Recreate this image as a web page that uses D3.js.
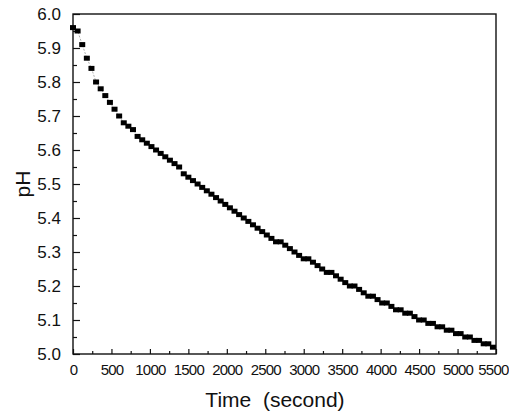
<!DOCTYPE html>
<html>
<head>
<meta charset="utf-8">
<script src="https://cdn.jsdelivr.net/npm/d3@7"></script>
<style>
  body { margin: 0; background: #fff; }
  svg { display: block; font-family: 'Liberation Sans', Arial, sans-serif; }
  .axis path, .axis line { stroke: #111; stroke-width: 1.2; }
  .axis text { fill: #111; }
</style>
</head>
<body>
<div id="vis"></div>
<script>
// time in seconds
const times = [
  0, 60, 120, 180, 240, 300, 360, 420, 480, 540,
  600, 660, 720, 780, 840, 900, 960, 1020, 1080, 1140,
  1200, 1260, 1320, 1380, 1440, 1500, 1560, 1620, 1680, 1740,
  1800, 1860, 1920, 1980, 2040, 2100, 2160, 2220, 2280, 2340,
  2400, 2460, 2520, 2580, 2640, 2700, 2760, 2820, 2880, 2940,
  3000, 3060, 3120, 3180, 3240, 3300, 3360, 3420, 3480, 3540,
  3600, 3660, 3720, 3780, 3840, 3900, 3960, 4020, 4080, 4140,
  4200, 4260, 4320, 4380, 4440, 4500, 4560, 4620, 4680, 4740,
  4800, 4860, 4920, 4980, 5040, 5100, 5160, 5220, 5280, 5340,
  5400, 5460
]
const phValues = [
  5.96, 5.95, 5.91, 5.87, 5.84, 5.80, 5.78, 5.76, 5.74, 5.72,
  5.70, 5.68, 5.67, 5.66, 5.64, 5.63, 5.62, 5.61, 5.60, 5.59,
  5.58, 5.57, 5.56, 5.55, 5.53, 5.52, 5.51, 5.50, 5.49, 5.48,
  5.47, 5.46, 5.45, 5.44, 5.43, 5.42, 5.41, 5.40, 5.39, 5.38,
  5.37, 5.36, 5.35, 5.34, 5.33, 5.33, 5.32, 5.31, 5.30, 5.29,
  5.28, 5.28, 5.27, 5.26, 5.25, 5.24, 5.24, 5.23, 5.22, 5.21,
  5.20, 5.20, 5.19, 5.18, 5.17, 5.17, 5.16, 5.15, 5.15, 5.14,
  5.13, 5.13, 5.12, 5.12, 5.11, 5.10, 5.10, 5.09, 5.09, 5.08,
  5.08, 5.07, 5.07, 5.06, 5.06, 5.05, 5.05, 5.04, 5.04, 5.03,
  5.03, 5.02
]
const xTicks = [0, 500, 1000, 1500, 2000, 2500, 3000, 3500, 4000, 4500, 5000, 5500]
const xMinorTicks = [250, 750, 1250, 1750, 2250, 2750, 3250, 3750, 4250, 4750, 5250]
const yTicks = [5.0, 5.1, 5.2, 5.3, 5.4, 5.5, 5.6, 5.7, 5.8, 5.9, 6.0]
const yMinorTicks = [5.05, 5.15, 5.25, 5.35, 5.45, 5.55, 5.65, 5.75, 5.85, 5.95]

const width = 509
const height = 412
const margin = { top: 14, right: 13, bottom: 58, left: 73 }
const chartWidth = width - margin.left - margin.right
const chartHeight = height - margin.top - margin.bottom

const data = times.map((t, i) => ({ t, ph: phValues[i] }))

const svg = d3.select('#vis').append('svg')
  .attr('width', width).attr('height', height)

const g = svg.append('g')
  .attr('transform', `translate(${margin.left},${margin.top})`)

const x = d3.scaleLinear().domain([0, 5500]).range([0, chartWidth])
const y = d3.scaleLinear().domain([5.0, 6.0]).range([chartHeight, 0])

// minor ticks first, majors on top
g.append('g')
  .attr('class', 'axis')
  .attr('transform', `translate(0,${chartHeight})`)
  .call(d3.axisBottom(x).tickValues(xMinorTicks).tickSizeInner(-3).tickSizeOuter(0).tickFormat(''))
  .select('.domain').remove()

g.append('g')
  .attr('class', 'axis')
  .call(d3.axisLeft(y).tickValues(yMinorTicks).tickSizeInner(-4).tickSizeOuter(0).tickFormat(''))
  .select('.domain').remove()

const xAxis = g.append('g')
  .attr('class', 'axis x')
  .attr('transform', `translate(0,${chartHeight})`)
  .call(d3.axisBottom(x).tickValues(xTicks).tickSizeInner(-5).tickSizeOuter(0).tickPadding(10)
    .tickFormat(d3.format('d')))
xAxis.selectAll('text')
  .attr('font-size', 15)
  .attr('letter-spacing', '-0.8px')
// keep the last label inside the page
xAxis.selectAll('.tick')
  .filter((d) => d === 5500)
  .select('text')
  .attr('text-anchor', 'end')
  .attr('x', 12)
xAxis.select('.domain').remove()

const yAxis = g.append('g')
  .attr('class', 'axis y')
  .call(d3.axisLeft(y).tickValues(yTicks).tickSizeInner(-7).tickSizeOuter(0).tickPadding(12)
    .tickFormat(d3.format('.1f')))
yAxis.selectAll('text').attr('font-size', 17)
yAxis.select('.domain').remove()

// frame
g.append('rect')
  .attr('width', chartWidth)
  .attr('height', chartHeight)
  .attr('fill', 'none')
  .attr('stroke', '#111')
  .attr('stroke-width', 1.4)

// thin connecting line
const line = d3.line()
  .x((d) => x(d.t))
  .y((d) => y(d.ph))

g.append('path')
  .attr('d', line(data))
  .attr('fill', 'none')
  .attr('stroke', '#999')
  .attr('stroke-width', 0.8)
  .attr('stroke-dasharray', '2,1.5')

g.selectAll('.pt')
  .data(data)
  .enter().append('rect')
  .attr('class', 'pt')
  .attr('x', (d) => x(d.t) - 3)
  .attr('y', (d) => y(d.ph) - 2.5)
  .attr('width', 6)
  .attr('height', 5)
  .attr('fill', '#000')

// axis titles
svg.append('text')
  .attr('x', 275)
  .attr('y', 407)
  .attr('text-anchor', 'middle')
  .attr('font-size', 21)
  .attr('fill', '#111')
  .style('white-space', 'pre')
  .text('Time  (second)')

svg.append('text')
  .attr('transform', `translate(30,${margin.top + chartHeight / 2}) rotate(-90)`)
  .attr('text-anchor', 'middle')
  .attr('font-size', 21)
  .attr('fill', '#111')
  .text('pH')
</script>
</body>
</html>
